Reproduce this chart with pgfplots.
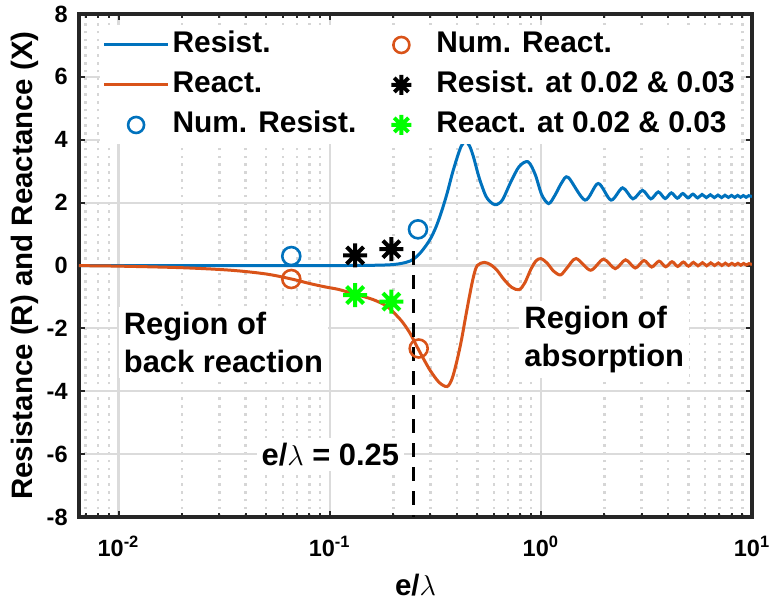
\documentclass[border=0pt]{standalone}
\usepackage{pgfplots}
\pgfplotsset{compat=1.18}
\usepackage{fontspec}
\setmainfont{Liberation Sans}
\definecolor{mblue}{RGB}{0,114,189}
\definecolor{morange}{RGB}{217,83,25}
\definecolor{mgreen}{RGB}{0,255,0}
\definecolor{axgray}{RGB}{38,38,38}
\pgfdeclareplotmark{ast8}{%
 \pgfpathmoveto{\pgfqpoint{0pt}{\pgfplotmarksize}}\pgfpathlineto{\pgfqpoint{0pt}{-\pgfplotmarksize}}%
 \pgfpathmoveto{\pgfqpoint{\pgfplotmarksize}{0pt}}\pgfpathlineto{\pgfqpoint{-\pgfplotmarksize}{0pt}}%
 \pgfpathmoveto{\pgfqpoint{0.707\pgfplotmarksize}{0.707\pgfplotmarksize}}\pgfpathlineto{\pgfqpoint{-0.707\pgfplotmarksize}{-0.707\pgfplotmarksize}}%
 \pgfpathmoveto{\pgfqpoint{0.707\pgfplotmarksize}{-0.707\pgfplotmarksize}}\pgfpathlineto{\pgfqpoint{-0.707\pgfplotmarksize}{0.707\pgfplotmarksize}}%
 \pgfusepathqstroke}
\begin{document}
\begin{tikzpicture}
\begin{axis}[
  at={(0,0)}, anchor=south west,
  scale only axis, width=336.5bp, height=251.5bp,
  xmode=log, log basis x=10,
  xmin=0.0065, xmax=10, ymin=-8, ymax=8,
  xtick={0.01,0.1,1,10},
  minor xtick={0.007,0.008,0.009,0.02,0.03,0.04,0.05,0.06,0.07,0.08,0.09,0.2,0.3,0.4,0.5,0.6,0.7,0.8,0.9,2,3,4,5,6,7,8,9},
  xticklabels={10\textsuperscript{-2},10\textsuperscript{-1},10\textsuperscript{0},10\textsuperscript{1}},
  ytick={-8,-6,-4,-2,0,2,4,6,8},
  yticklabels={-8,-6,-4,-2,0,2,4,6,8},
  tick align=inside, tick pos=both,
  major tick length=3bp, minor tick length=2bp,
  every tick/.style={axgray, line width=1bp},
  axis line style={axgray, line width=1.6bp},
  xmajorgrids, xminorgrids, ymajorgrids,
  major grid style={black!14, line width=1.1bp},
  minor grid style={black!16, line width=1.3bp, dash pattern=on 1.3bp off 2.6bp},
  tick label style={font=\fontsize{11.8}{14}\selectfont\bfseries},
  xticklabel style={inner sep=0pt, anchor=north, yshift=-9.5bp},
  yticklabel style={inner sep=0pt, anchor=east, xshift=-5.5bp},
  xlabel={\textbf{e/}$\lambda$},
  ylabel={Resistance (R) and Reactance (X)},
  label style={font=\fontsize{14.8}{17}\selectfont\bfseries},
  xlabel style={at={(axis description cs:0.5,-0.135)}, anchor=center},
  ylabel style={at={(axis description cs:-0.0802,0.5)}, anchor=center},
  legend columns=2,
  legend cell align=left,
  legend image code/.code={\path[draw=none,fill=none] (0bp,0bp) (32bp,0bp);\draw[mark repeat=2,mark phase=2,#1] plot coordinates {(0bp,0bp) (16bp,0bp) (32bp,0bp)};},
  legend style={at={(axis description cs:0.03,0.978)}, anchor=north west, draw=none, fill=white,
    inner sep=1.5bp, font=\fontsize{15}{17}\selectfont\bfseries, row sep=3.5bp,
    /tikz/every even column/.append style={column sep=5bp},
    nodes={inner sep=1.5bp, text height=10.5bp, text depth=3bp}},
]
% Resistance curve
\addplot[mblue, line width=1.5bp, smooth, tension=0.5, forget plot] coordinates {
(0.0065,0) (0.05,0) (0.12,0) (0.17,0.01) (0.2,0.03) (0.22,0.07) (0.24,0.14) (0.26,0.3)
(0.28,0.55) (0.30,0.85) (0.32,1.25) (0.34,1.75) (0.36,2.3) (0.38,2.9) (0.40,3.4) (0.42,3.8)
(0.44,3.95) (0.46,3.8) (0.48,3.45) (0.51,2.8) (0.55,2.2) (0.59,1.97) (0.62,1.94) (0.66,2.1)
(0.72,2.65) (0.79,3.15) (0.87,3.3) (0.94,2.9) (1.01,2.25) (1.09,1.97) (1.17,2.25) (1.26,2.65)
(1.35,2.8) (1.62,2.08) (1.87,2.61) (2.15,2.08) (2.44,2.47) (2.73,2.12) (3.03,2.39) (3.32,2.12)
(3.6,2.34) (3.88,2.13) (4.15,2.31) (4.43,2.14) (4.7,2.29) (4.98,2.15) (5.25,2.27) (5.53,2.15)
(5.8,2.26) (6.08,2.16) (6.35,2.25) (6.63,2.16) (6.9,2.24) (7.18,2.16) (7.45,2.235) (7.73,2.165)
(8.0,2.23) (8.28,2.165) (8.55,2.23) (8.83,2.17) (9.1,2.225) (9.38,2.17) (9.65,2.22) (10,2.19)
};
% Reactance curve
\addplot[morange, line width=1.5bp, smooth, tension=0.5, forget plot] coordinates {
(0.0065,-0.005) (0.01,-0.02) (0.02,-0.07) (0.034,-0.15) (0.05,-0.27) (0.066,-0.43) (0.08,-0.57)
(0.095,-0.68) (0.11,-0.76) (0.13,-0.9) (0.16,-1.08) (0.185,-1.28) (0.2,-1.48) (0.22,-1.78)
(0.24,-2.15) (0.26,-2.6) (0.28,-3.0) (0.30,-3.35) (0.33,-3.72) (0.36,-3.85) (0.38,-3.6)
(0.40,-3.05) (0.42,-2.4) (0.44,-1.65) (0.46,-0.95) (0.48,-0.35) (0.50,0.0) (0.54,0.1)
(0.58,0.02) (0.62,-0.15) (0.67,-0.45) (0.73,-0.7) (0.79,-0.77) (0.84,-0.55) (0.90,-0.1)
(0.95,0.15) (1.0,0.22) (1.07,0.08) (1.15,-0.18) (1.24,-0.3) (1.33,-0.08) (1.47,0.22)
(1.72,-0.15) (1.98,0.2) (2.25,-0.1) (2.52,0.18) (2.8,-0.08) (3.08,0.16) (3.35,-0.05)
(3.63,0.14) (3.9,-0.04) (4.18,0.12) (4.45,-0.03) (4.73,0.11) (5.0,-0.02) (5.28,0.1)
(5.55,-0.01) (5.83,0.09) (6.1,-0.01) (6.38,0.085) (6.65,0.0) (6.93,0.08) (7.2,0.0)
(7.48,0.075) (7.75,0.005) (8.03,0.07) (8.3,0.01) (8.58,0.07) (8.85,0.01) (9.13,0.065)
(9.4,0.015) (9.68,0.06) (10,0.03)
};
% dashed line at 0.25
\addplot[black, line width=1.5bp, dash pattern=on 7bp off 5bp, forget plot] coordinates {(0.25,0.45) (0.25,-8)};
% numerical points
\addplot[mblue, only marks, mark=o, mark size=4.5bp, line width=1.3bp, forget plot] coordinates {(0.0658,0.3) (0.262,1.15)};
\addplot[morange, only marks, mark=o, mark size=4.5bp, line width=1.3bp, forget plot] coordinates {(0.0658,-0.43) (0.264,-2.64)};
\addplot[black, only marks, mark=ast8, mark size=6bp, line width=2bp, forget plot] coordinates {(0.132,0.32) (0.196,0.52)};
\addplot[mgreen, only marks, mark=ast8, mark size=6bp, line width=2bp, forget plot] coordinates {(0.132,-0.94) (0.196,-1.15)};
% legend (row-major order for two columns)
\addlegendimage{mblue, line width=1.5bp}
\addlegendentry{Resist.}
\addlegendimage{morange, only marks, mark=o, mark size=4bp, line width=1.3bp}
\addlegendentry{Num. React.}
\addlegendimage{morange, line width=1.5bp}
\addlegendentry{React.}
\addlegendimage{black, only marks, mark=ast8, mark size=5bp, line width=2bp}
\addlegendentry{Resist. at 0.02 \& 0.03}
\addlegendimage{mblue, only marks, mark=o, mark size=4bp, line width=1.3bp}
\addlegendentry{Num. Resist.}
\addlegendimage{mgreen, only marks, mark=ast8, mark size=5bp, line width=2bp}
\addlegendentry{React. at 0.02 \& 0.03}
% annotations
\node[anchor=west, fill=white, inner sep=2.5bp, align=left, font=\fontsize{15.5}{19}\selectfont\bfseries] at (axis cs:0.01,-2.45) {Region of\\back reaction};
\node[anchor=west, fill=white, inner sep=2.5bp, align=left, font=\fontsize{15.5}{19}\selectfont\bfseries] at (axis cs:0.789,-2.35) {Region of\\absorption};
\node[anchor=east, fill=white, inner sep=2.5bp, font=\fontsize{15.5}{17}\selectfont\bfseries] at (axis cs:0.226,-6) {e/$\lambda$ = 0.25};
\end{axis}
\pgfresetboundingbox
\path (-39.5bp,-42bp) rectangle (348bp,258.5bp);
\end{tikzpicture}
\end{document}
